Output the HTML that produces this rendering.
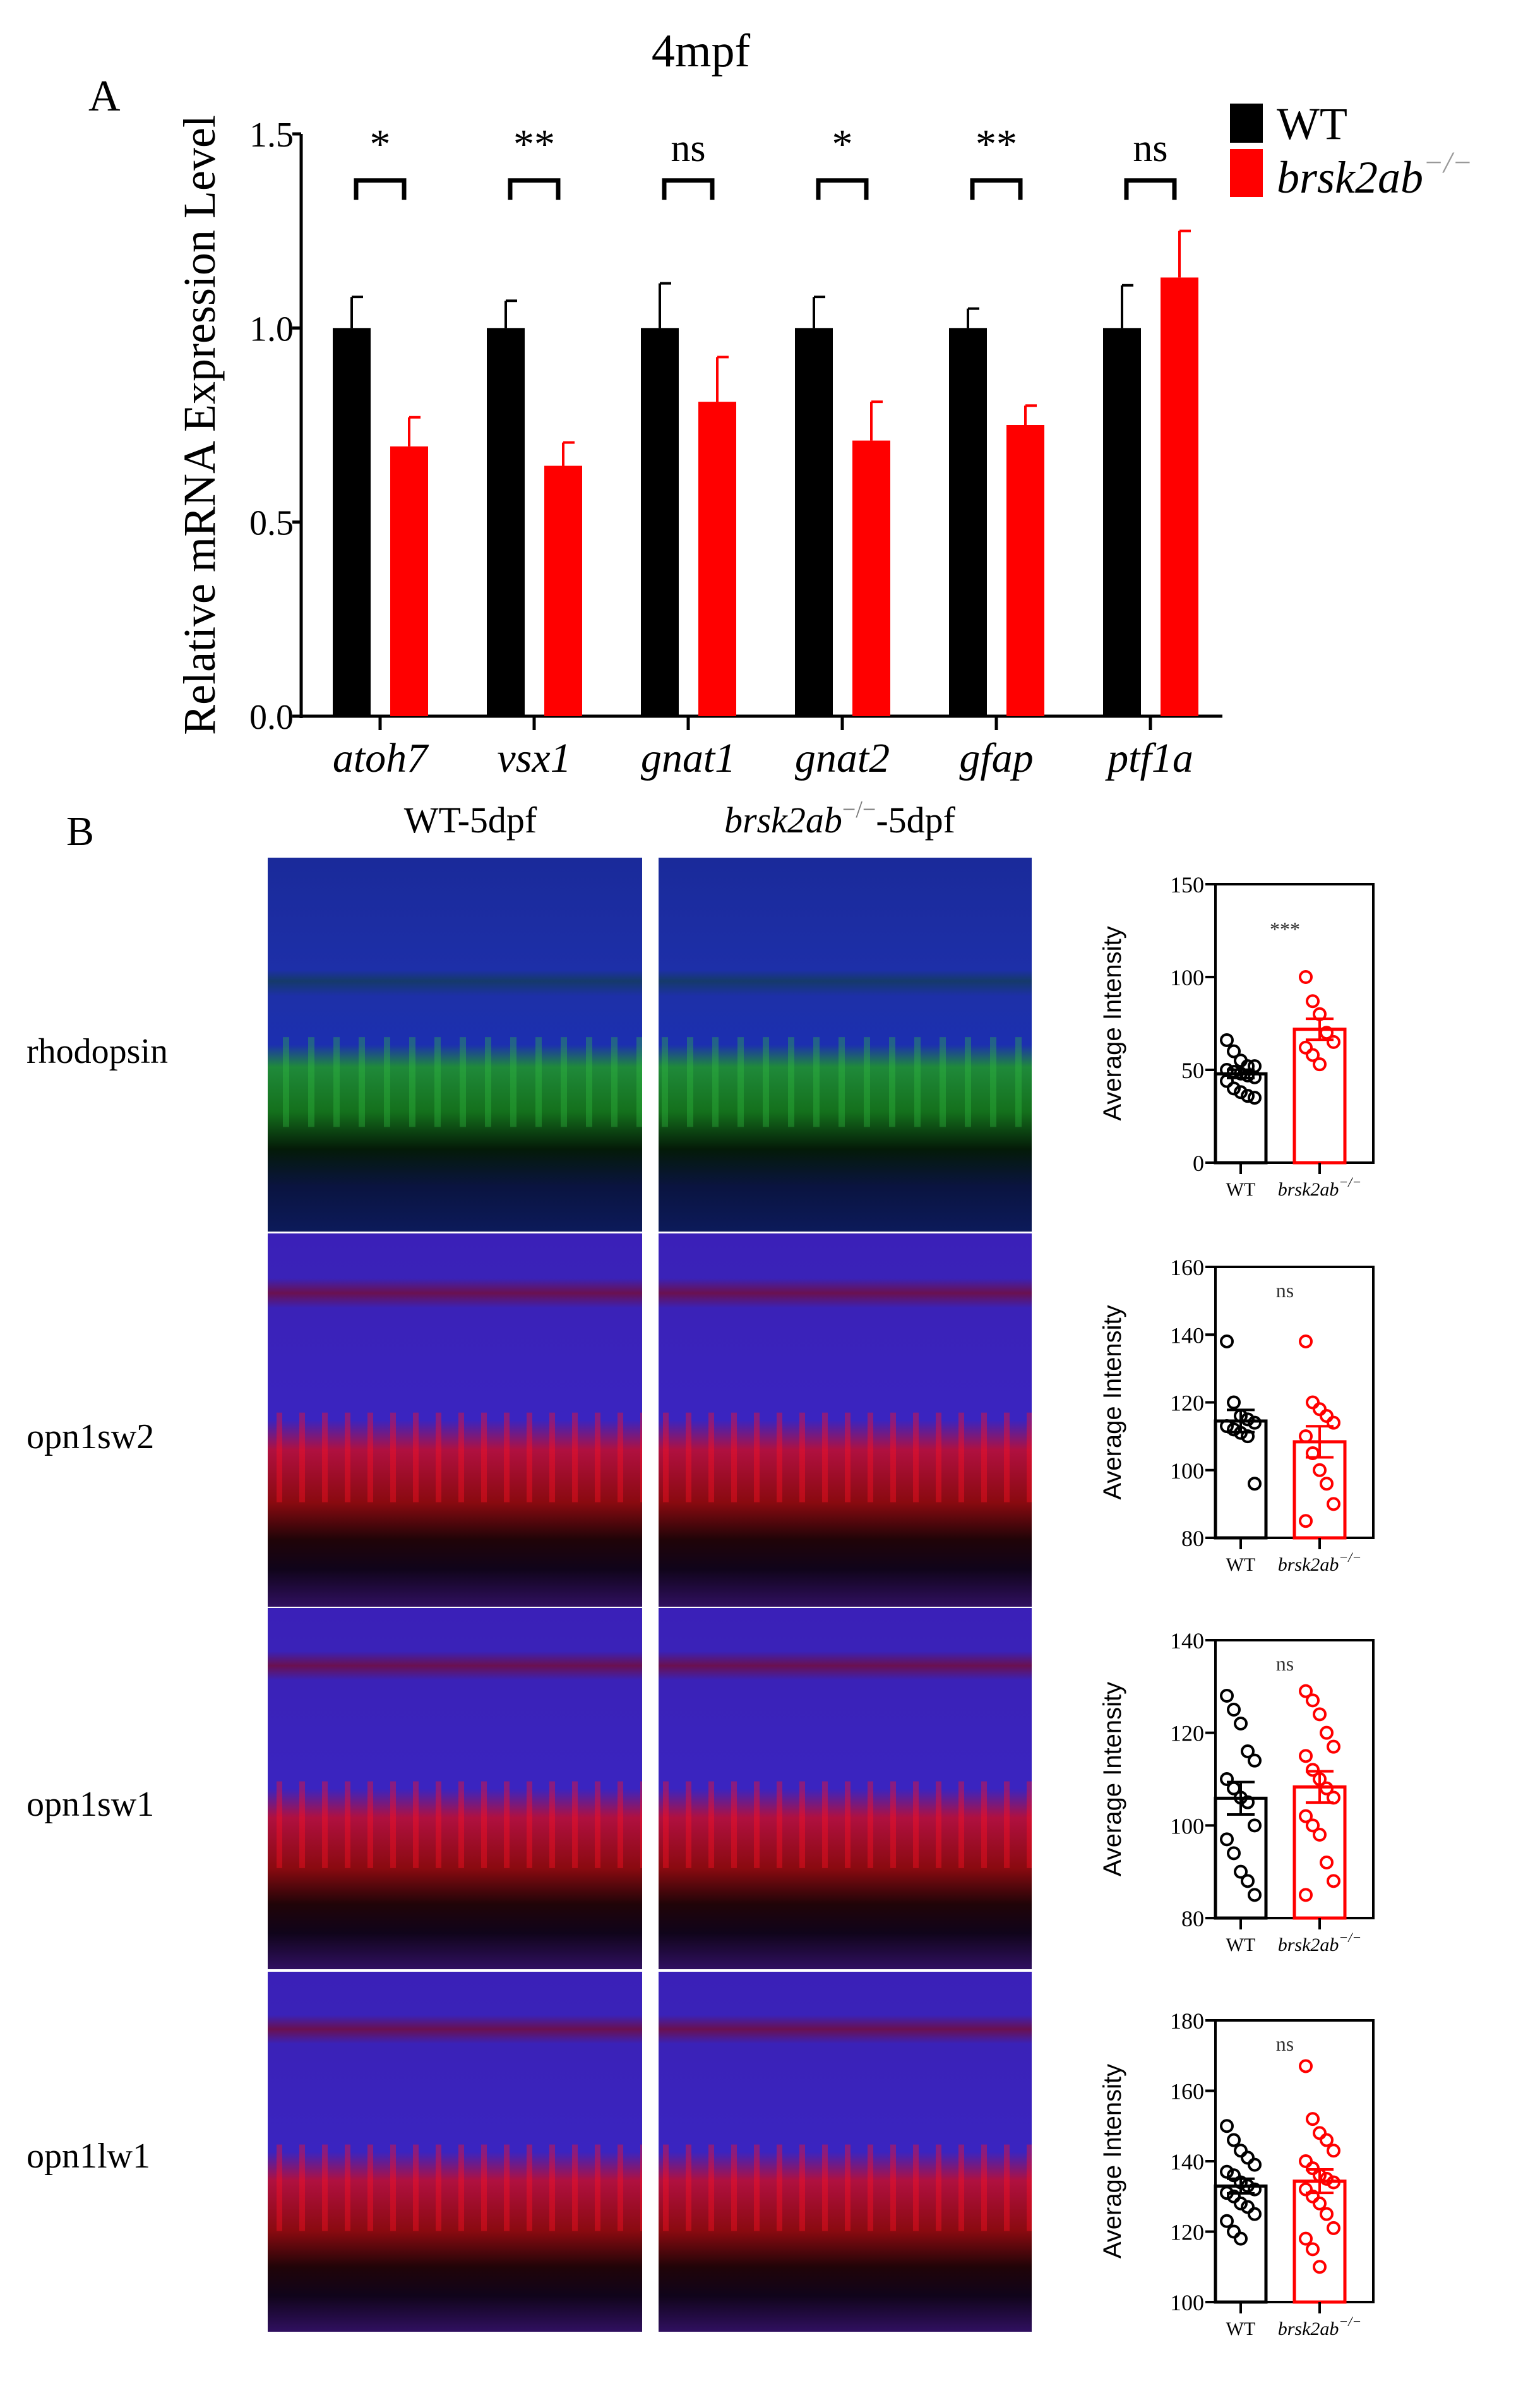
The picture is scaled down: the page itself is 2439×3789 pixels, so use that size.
<!DOCTYPE html>
<html><head><meta charset="utf-8"><style>
html,body{margin:0;padding:0;background:#fff;}
svg{display:block;}
text{font-family:"Liberation Serif",serif;}
.sans{font-family:"Liberation Sans",sans-serif;}
</style></head><body>
<svg id="fig" width="2439" height="3789" viewBox="0 0 2439 3789" xmlns="http://www.w3.org/2000/svg">
<defs>
<linearGradient id="gRho" x1="0" y1="0" x2="0" y2="1">
<stop offset="0" stop-color="#1a2a9a"/><stop offset="0.3" stop-color="#1d2fa8"/>
<stop offset="0.33" stop-color="#153a6a"/><stop offset="0.37" stop-color="#1d30a8"/>
<stop offset="0.5" stop-color="#1c2fb0"/><stop offset="0.56" stop-color="#1f8a3a"/>
<stop offset="0.68" stop-color="#14701c"/><stop offset="0.78" stop-color="#041a08"/>
<stop offset="0.88" stop-color="#0a1440"/><stop offset="1" stop-color="#0c1a5a"/>
</linearGradient>
<linearGradient id="gRed" x1="0" y1="0" x2="0" y2="1">
<stop offset="0" stop-color="#3a20b8"/><stop offset="0.12" stop-color="#3a22b8"/>
<stop offset="0.16" stop-color="#6a1050"/><stop offset="0.2" stop-color="#3a22b8"/>
<stop offset="0.5" stop-color="#3a24c0"/><stop offset="0.58" stop-color="#b01040"/>
<stop offset="0.72" stop-color="#8a0a10"/><stop offset="0.82" stop-color="#200408"/>
<stop offset="0.9" stop-color="#10041a"/><stop offset="1" stop-color="#301060"/>
</linearGradient>
<pattern id="streakG" width="40" height="300" patternUnits="userSpaceOnUse">
<rect x="8" y="0" width="10" height="300" fill="#30c040" opacity="0.35"/>
</pattern>
<pattern id="streakR" width="36" height="300" patternUnits="userSpaceOnUse">
<rect x="6" y="0" width="9" height="300" fill="#ff1020" opacity="0.4"/>
</pattern>
</defs>
<g id="chartA"></g>
<g id="panelB"></g>
</svg>
<script>
// ---- Panel A data ----
const genes = ["atoh7","vsx1","gnat1","gnat2","gfap","ptf1a"];
const wtMean = [1.0,1.0,1.0,1.0,1.0,1.0];
const wtErr = [0.08,0.07,0.115,0.08,0.05,0.11];
const koMean = [0.695,0.645,0.81,0.71,0.75,1.13];
const koErr = [0.075,0.06,0.115,0.10,0.05,0.12];
const sigLabels = ["*","**","ns","*","**","ns"];
const yTicksA = [0.0,0.5,1.0,1.5];

// ---- Panel B data ----
const rowNames = ["rhodopsin","opn1sw2","opn1sw1","opn1lw1"];
const c1Ticks = [0,50,100,150];
const c1WT = [66,60,55,52,52,50,49,48,47,46,44,40,38,36,35];
const c1KO = [100,87,80,70,65,62,58,53];
const c2Ticks = [80,100,120,140,160];
const c2WT = [138,120,116,115,114,113,112,111,110,96];
const c2KO = [138,120,118,116,114,110,105,100,96,90,85];
const c3Ticks = [80,100,120,140];
const c3WT = [128,125,122,116,114,110,108,106,105,100,97,94,90,88,85];
const c3KO = [129,127,124,120,117,115,112,110,108,106,102,100,98,92,88,85];
const c4Ticks = [100,120,140,160,180];
const c4WT = [150,146,143,141,139,137,136,134,133,132,131,130,128,127,125,123,120,118];
const c4KO = [167,152,148,146,143,140,138,136,135,134,132,130,128,125,121,118,115,110];
const sigB = ["***","ns","ns","ns"];

const NS="http://www.w3.org/2000/svg";
function mk(parent,tag,attrs,txt){const e=document.createElementNS(NS,tag);for(const k in attrs)e.setAttribute(k,attrs[k]);if(txt!==undefined)e.textContent=txt;parent.appendChild(e);return e;}

// ===== Panel A =====
const A=document.getElementById('chartA');
const ax0=477, ax1=1936, y0=1134, y15=212;
const yA=v=>y0-(v/1.5)*(y0-y15);
const xA=i=>602+i*244;
let t;
t=mk(A,'text',{x:1110,y:105,'font-size':74,'text-anchor':'middle'},'4mpf');

t=mk(A,'text',{x:140,y:175,'font-size':70},'A');

t=mk(A,'text',{x:0,y:0,'font-size':72,'text-anchor':'middle',transform:'translate(340,673) rotate(-90)'},'Relative mRNA Expression Level');

let l=mk(A,'line',{x1:ax0,y1:yA(1.5),x2:ax0,y2:y0+3,stroke:'#000','stroke-width':5});

l=mk(A,'line',{x1:ax0-3,y1:y0,x2:ax1,y2:y0,stroke:'#000','stroke-width':5});

yTicksA.forEach(v=>{
  mk(A,'line',{x1:ax0-14,y1:yA(v),x2:ax0,y2:yA(v),stroke:'#000','stroke-width':5});
  const tt=mk(A,'text',{x:ax0-12,y:yA(v)+20,'font-size':56,'text-anchor':'end'},v.toFixed(1));
  
});
genes.forEach((g,i)=>{
  const cx=xA(i), bw=60;
  const wx=cx-75, kx=cx+16;
  const b1=mk(A,'rect',{x:wx,y:yA(wtMean[i]),width:bw,height:y0-yA(wtMean[i]),fill:'#000'});
  
  const b2=mk(A,'rect',{x:kx,y:yA(koMean[i]),width:bw,height:y0-yA(koMean[i]),fill:'#ff0000'});
  
  const e1=wx+bw/2, e2=kx+bw/2;
  mk(A,'line',{x1:e1,y1:yA(wtMean[i]),x2:e1,y2:yA(wtMean[i]+wtErr[i]),stroke:'#000','stroke-width':4});
  mk(A,'line',{x1:e1,y1:yA(wtMean[i]+wtErr[i]),x2:e1+18,y2:yA(wtMean[i]+wtErr[i]),stroke:'#000','stroke-width':4});
  mk(A,'line',{x1:e2,y1:yA(koMean[i]),x2:e2,y2:yA(koMean[i]+koErr[i]),stroke:'#ff0000','stroke-width':4});
  mk(A,'line',{x1:e2,y1:yA(koMean[i]+koErr[i]),x2:e2+18,y2:yA(koMean[i]+koErr[i]),stroke:'#ff0000','stroke-width':4});
  mk(A,'line',{x1:cx,y1:y0,x2:cx,y2:y0+22,stroke:'#000','stroke-width':5});
  const xl=mk(A,'text',{x:cx,y:1222,'font-size':66,'font-style':'italic','text-anchor':'middle'},g);
  
  const br=mk(A,'path',{d:`M${cx-38} ${yA(1.33)} V${yA(1.38)} H${cx+38} V${yA(1.33)}`,fill:'none',stroke:'#000','stroke-width':7});
  
  const sl=sigLabels[i];
  const st=mk(A,'text',{x:cx,y:sl==='ns'?255:250,'font-size':sl==='ns'?62:66,'text-anchor':'middle'},sl);
  
});
// legend
let r=mk(A,'rect',{x:1948,y:164,width:52,height:62,fill:'#000'});

r=mk(A,'rect',{x:1948,y:236,width:52,height:76,fill:'#ff0000'});

t=mk(A,'text',{x:2022,y:220,'font-size':72},'WT');

t=mk(A,'text',{x:2022,y:305,'font-size':72,'font-style':'italic'});

t.innerHTML='brsk2ab<tspan dy="-32" font-size="48" fill="#999">−/−</tspan>';

// ===== Panel B =====
const B=document.getElementById('panelB');
t=mk(B,'text',{x:105,y:1338,'font-size':66},'B');

t=mk(B,'text',{x:745,y:1318,'font-size':58,'text-anchor':'middle'},'WT-5dpf');

t=mk(B,'text',{x:1330,y:1318,'font-size':58,'text-anchor':'middle'});

t.innerHTML='<tspan font-style="italic">brsk2ab</tspan><tspan dy="-24" font-size="38" fill="#777">−/−</tspan><tspan dy="24">-5dpf</tspan>';
const rowTops=[1358,1953,2546,3122], rowBots=[1950,2544,3118,3692];
const labY=[1683,2293,2875,3432];
const cols=[[424,1017],[1043,1634]];
rowNames.forEach((nm,ri)=>{
  const lt=mk(B,'text',{x:42,y:labY[ri],'font-size':56},nm);
  
  cols.forEach((c,ci)=>{
    const g=mk(B,'g',{});
    
    
    const h=rowBots[ri]-rowTops[ri];
    mk(g,'rect',{x:c[0],y:rowTops[ri],width:c[1]-c[0],height:h,fill:ri===0?'url(#gRho)':'url(#gRed)'});
    mk(g,'rect',{x:c[0],y:rowTops[ri]+h*0.48,width:c[1]-c[0],height:h*0.24,fill:ri===0?'url(#streakG)':'url(#streakR)'});
  });
});
// small charts
const charts=[
 {ticks:c1Ticks,wt:c1WT,ko:c1KO,top:1400,bot:1841},
 {ticks:c2Ticks,wt:c2WT,ko:c2KO,top:2006,bot:2435},
 {ticks:c3Ticks,wt:c3WT,ko:c3KO,top:2597,bot:3037},
 {ticks:c4Ticks,wt:c4WT,ko:c4KO,top:3199,bot:3645}
];
const bx0=1925,bx1=2175;
const mean=a=>a.reduce((s,v)=>s+v,0)/a.length;
const sem=a=>{const m=mean(a);return Math.sqrt(a.reduce((s,v)=>s+(v-m)*(v-m),0)/(a.length-1))/Math.sqrt(a.length);};
charts.forEach((ch,ci)=>{
  const g=mk(B,'g',{});
  
  
  const lo=ch.ticks[0],hi=ch.ticks[ch.ticks.length-1];
  const y=v=>ch.bot-(v-lo)/(hi-lo)*(ch.bot-ch.top);
  const fr=mk(g,'rect',{x:bx0,y:ch.top,width:bx1-bx0,height:ch.bot-ch.top,fill:'none',stroke:'#000','stroke-width':4});
  
  ch.ticks.forEach(v=>{
    mk(g,'line',{x1:bx0-16,y1:y(v),x2:bx0,y2:y(v),stroke:'#000','stroke-width':4});
    const tt=mk(g,'text',{x:bx0-18,y:y(v)+13,'font-size':36,'text-anchor':'end'},String(v));
    
  });
  const yt=mk(g,'text',{x:0,y:0,'font-size':40,'text-anchor':'middle',class:'sans',transform:`translate(1775,${(ch.top+ch.bot)/2}) rotate(-90)`},'Average Intensity');
  
  const groups=[[ch.wt,'#000',1965,'wt'],[ch.ko,'#ff0000',2090,'ko']];
  groups.forEach(([arr,col,cx,key])=>{
    const m=mean(arr), s=sem(arr), bw=80;
    const bar=mk(g,'rect',{x:cx-bw/2,y:y(m),width:bw,height:ch.bot-y(m),fill:'none',stroke:col,'stroke-width':5});
    
    mk(g,'line',{x1:cx,y1:y(m-s),x2:cx,y2:y(m+s),stroke:col,'stroke-width':4});
    mk(g,'line',{x1:cx-22,y1:y(m+s),x2:cx+22,y2:y(m+s),stroke:col,'stroke-width':4});
    mk(g,'line',{x1:cx-22,y1:y(m-s),x2:cx+22,y2:y(m-s),stroke:col,'stroke-width':4});
    arr.forEach((v,i)=>{
      const off=((i%5)-2)*11;
      const p=mk(g,'circle',{cx:cx+off,cy:y(v),r:9,fill:'none',stroke:col,'stroke-width':4});
      
    });
    mk(g,'line',{x1:cx,y1:ch.bot,x2:cx,y2:ch.bot+18,stroke:'#000','stroke-width':4});
  });
  const xl1=mk(g,'text',{x:1965,y:ch.bot+52,'font-size':30,'text-anchor':'middle'},'WT');
  
  const xl2=mk(g,'text',{x:2090,y:ch.bot+52,'font-size':30,'text-anchor':'middle','font-style':'italic'});
  
  xl2.innerHTML='brsk2ab<tspan dy="-14" font-size="22">−/−</tspan>';
  const sg=mk(g,'text',{x:2035,y:ch.top+(ci===0?82:48),'font-size':32,'text-anchor':'middle',fill:'#333'},sigB[ci]);
  
});
</script>
</body></html>
